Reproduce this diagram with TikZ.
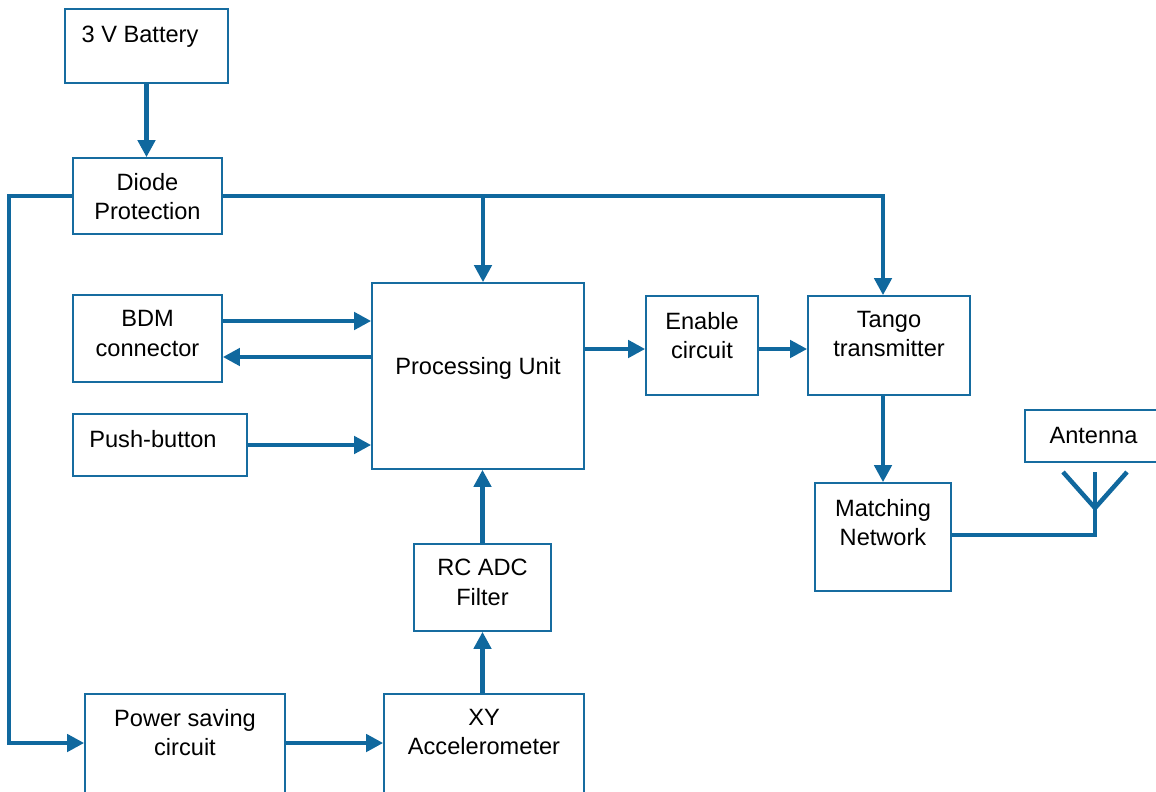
\documentclass[tikz,border=0pt]{standalone}
\usepackage{fontspec}
\setmainfont{Liberation Sans}
\usetikzlibrary{arrows.meta}
\definecolor{boxblue}{RGB}{22,108,160}
\definecolor{linkblue}{RGB}{16,104,158}
\begin{document}
\begin{tikzpicture}[x=1pt,y=-1pt,
  box/.style={draw=boxblue, line width=1.6pt, fill=white, inner sep=0pt, rectangle},
  txt/.style={anchor=north, align=center, inner sep=0pt, font=\fontsize{23.6}{29.5}\selectfont},
  conn/.style={draw=linkblue, line width=4.5pt, -{Triangle[length=17pt,width=17pt]}},
  wire/.style={draw=linkblue, line width=4.5pt}]
\clip (0,0) rectangle (1156,792);

% blocks
\node[box, minimum width=163pt, minimum height=74pt]  (bat) at (146.5,46)   {};
\node[box, minimum width=149pt, minimum height=76pt]  (dp)  at (147.5,196)  {};
\node[box, minimum width=149pt, minimum height=87pt]  (bdm) at (147.5,338.5){};
\node[box, minimum width=174pt, minimum height=62pt]  (pb)  at (160,445)    {};
\node[box, minimum width=212pt, minimum height=186pt] (pu)  at (478,376)    {};
\node[box, minimum width=112pt, minimum height=99pt]  (en)  at (702,345.5)  {};
\node[box, minimum width=162pt, minimum height=99pt]  (tx)  at (889,345.5)  {};
\node[box, minimum width=135pt, minimum height=52pt]  (ant) at (1092.5,436) {};
\node[box, minimum width=136pt, minimum height=108pt] (mn)  at (883,537)    {};
\node[box, minimum width=137pt, minimum height=87pt]  (rc)  at (482.5,587.5){};
\node[box, minimum width=200pt, minimum height=114pt] (ps)  at (185,751)    {};
\node[box, minimum width=200pt, minimum height=114pt] (xy)  at (484,751)    {};

% block captions
\node[txt] (bat-t) at (140,25.5)   {3 V Battery};
\node[txt] (dp-t)  at (147.5,173)  {Diode\\Protection};
\node[txt] (bdm-t) at (147.5,310.5){BDM\\connector};
\node[txt] (pb-t)  at (153,430.5)  {Push-button};
\node[txt] (pu-t)  at (478,357.5)  {Processing Unit};
\node[txt] (en-t)  at (702,312)    {Enable\\circuit};
\node[txt] (tx-t)  at (889,311)    {Tango\\transmitter};
\node[txt] (ant-t) at (1093.5,427) {Antenna};
\node[txt] (mn-t)  at (883,499)    {Matching\\Network};
\node[txt] (rc-t)  at (482.5,559)  {RC ADC\\Filter};
\node[txt] (ps-t)  at (185,709)    {Power saving\\circuit};
\node[txt] (xy-t)  at (484,709)    {XY\\Accelerometer};

% supply rail
\coordinate (j1) at (483,196);
\draw[conn] (bat.south) -- (bat.south |- dp.north);
\draw[conn] (dp.east) -| ([xshift=-6pt]tx.north);
\draw[conn] (j1) -- (j1 |- pu.north);
\draw[conn] (dp.west) -- ++(-63,0) |- ([yshift=8pt]ps.west);

% processing unit links
\draw[conn] ([yshift=17.5pt]bdm.east) -- ([yshift=17.5pt]bdm.east -| pu.west);
\draw[conn] ([yshift=-18.5pt]bdm.east -| pu.west) -- ([yshift=-18.5pt]bdm.east);
\draw[conn] (pb.east) -- (pb.east -| pu.west);
\draw[conn] ([yshift=-3.5pt]en.west -| pu.east) -- ([yshift=-3.5pt]en.west);
\draw[conn] ([yshift=-3.5pt]en.east) -- ([yshift=-3.5pt]tx.west);
\draw[conn] (mn.north |- tx.south) -- (mn.north);

% sensor chain
\draw[conn] ([yshift=8pt]ps.east) -- ([yshift=8pt]xy.west);
\draw[conn] (rc.south |- xy.north) -- (rc.south);
\draw[conn] (rc.north) -- (rc.north |- pu.south);

% antenna symbol
\coordinate (feed) at (1095,508);
\coordinate (mast) at (1095,472);
\coordinate (armL) at (1063,472);
\coordinate (armR) at (1127,472);
\draw[wire] ([yshift=2pt]mn.east) -| (mast);
\draw[wire] (armL) -- (feed) -- (armR);
\end{tikzpicture}
\end{document}
